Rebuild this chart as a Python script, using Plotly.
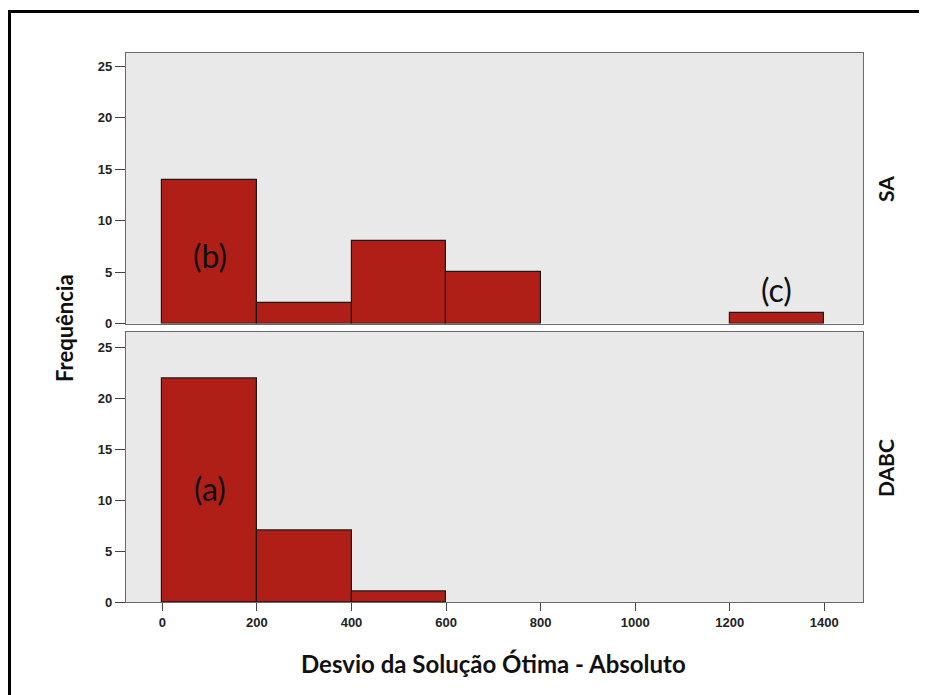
import plotly.graph_objects as go
from plotly.subplots import make_subplots

bin_starts = [0, 200, 400, 600, 800, 1000, 1200]
bin_width = 200
sa_counts = [14, 2, 8, 5, 0, 0, 1]
dabc_counts = [22, 7, 1, 0, 0, 0, 0]
panel_labels = ["SA", "DABC"]
x_ticks = [0, 200, 400, 600, 800, 1000, 1200, 1400]
y_ticks = [0, 5, 10, 15, 20, 25]
notes_sa = [("(b)", 100, 6.6), ("(c)", 1300, 3.3)]
notes_dabc = [("(a)", 100, 11.2)]

# page body has an 8px margin; work in reference pixel coords and shift
OFF = 8
W, H = 927 - OFF, 695 - OFF
# plot area in reference pixels: x 126..863, y 53..602
L, R, T, B = 126, 863, 53, 602
ml, mr, mt, mb = L - OFF, W - (R - OFF), T - OFF, H - (B - OFF)
pw, ph = R - L, B - T

def px_x(p):
    return (p - L) / pw

def px_y(p):
    return (B - p) / ph

fig = make_subplots(rows=2, cols=1, shared_xaxes=False, vertical_spacing=8 / ph)

bar_color = "#b01f17"
for row, counts in ((1, sa_counts), (2, dabc_counts)):
    xs = [s + bin_width / 2 for s, c in zip(bin_starts, counts) if c > 0]
    ys = [c for c in counts if c > 0]
    fig.add_trace(go.Bar(x=xs, y=ys, width=bin_width,
                         marker=dict(color=bar_color, line=dict(color="#1a1a1a", width=1.2)),
                         showlegend=False, hoverinfo="skip"), row=row, col=1)

tickfont = dict(family="Liberation Sans", size=13, color="#222", weight="bold")
axis_common = dict(showgrid=False, zeroline=False, showline=True, linecolor="#6a6a6a",
                   linewidth=1.3, mirror=True)

fig.update_xaxes(range=[-77, 1482], tickvals=x_ticks, **axis_common)
fig.update_xaxes(showticklabels=False, ticks="", row=1, col=1)
fig.update_xaxes(ticks="outside", ticklen=8, tickcolor="#444", tickwidth=1.3,
                 tickfont=tickfont, row=2, col=1)
fig.update_yaxes(tickvals=y_ticks, ticks="outside", ticklen=10, tickcolor="#444",
                 tickwidth=1.3, tickfont=tickfont, **axis_common)
fig.update_yaxes(range=[0, 26.3], row=1, col=1)
fig.update_yaxes(range=[0, 26.6], row=2, col=1)

annotations = []
note_font = dict(family="Lato", size=32, color="#111")
for text, x, y in notes_sa:
    annotations.append(dict(text=text, x=x, y=y, xref="x", yref="y", showarrow=False,
                            xanchor="center", yanchor="middle", font=note_font))
for text, x, y in notes_dabc:
    annotations.append(dict(text=text, x=x, y=y, xref="x2", yref="y2", showarrow=False,
                            xanchor="center", yanchor="middle", font=note_font))

def paper_note(text, x, y, font, angle=0):
    return dict(text=text, x=px_x(x), y=px_y(y), xref="paper", yref="paper",
                showarrow=False, textangle=angle, xanchor="center", yanchor="middle",
                font=font)

strip_font = dict(family="Lato", size=21, color="#111", weight="bold")
annotations.append(paper_note(panel_labels[0], 885, 189, strip_font, -90))
annotations.append(paper_note(panel_labels[1], 885, 468, strip_font, -90))
annotations.append(paper_note("Frequência", 64, 328,
                              dict(family="Lato", size=22, color="#111", weight="bold"), -90))
annotations.append(paper_note("Desvio da Solução Ótima - Absoluto", 493, 663,
                              dict(family="Lato", size=24, color="#111", weight="bold")))

fig.update_layout(
    width=W, height=H,
    margin=dict(l=ml, r=mr, t=mt, b=mb),
    paper_bgcolor="white", plot_bgcolor="#e9e9e9",
    bargap=0,
    annotations=annotations,
    shapes=[dict(type="rect", xref="paper", yref="paper",
                 x0=px_x(9.5), x1=px_x(960), y0=px_y(720), y1=px_y(11.5),
                 line=dict(color="black", width=3), fillcolor="rgba(0,0,0,0)", layer="below")],
)

fig.write_html("out.html")
